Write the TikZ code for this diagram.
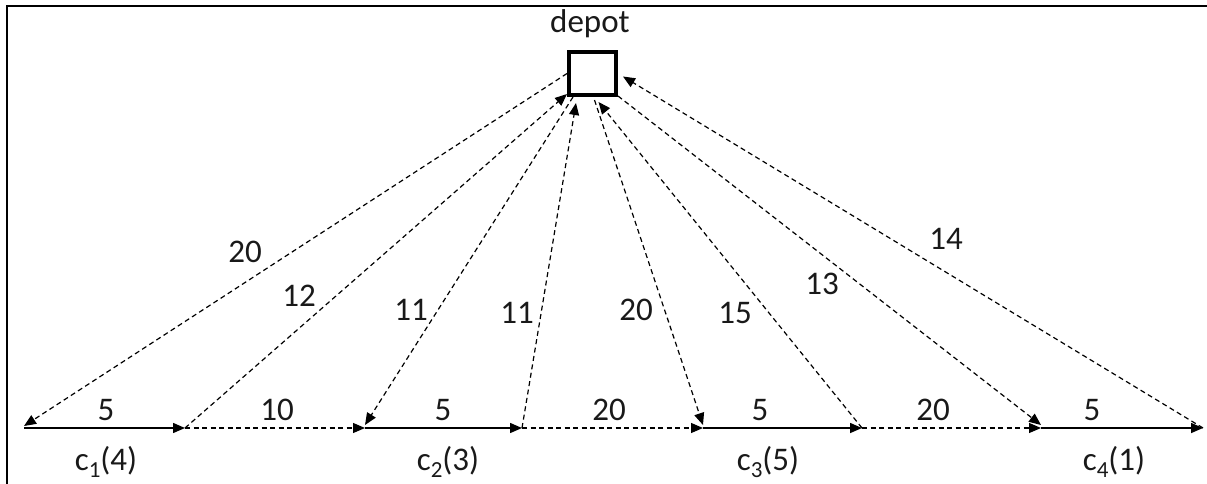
\documentclass[tikz,border=0pt]{standalone}
\usepackage{fontspec}
\setmainfont{Carlito}
\usetikzlibrary{arrows.meta}
\begin{document}
\begin{tikzpicture}[x=1pt,y=-1pt,
  lbl/.style={font=\fontsize{33}{39}\selectfont, text=black!90, inner sep=0pt},
  dsh/.style={line width=1.2pt, dash pattern=on 5pt off 3.5pt, -{Triangle[length=12pt,width=10pt]}},
  sld/.style={line width=1.5pt, -{Triangle[length=12pt,width=10pt]}},
  frame/.style={line width=2.2pt}]
\useasboundingbox (0,0) rectangle (1207,484);
% frame
\draw[frame] (7,484) -- (7,6) -- (1207,6);
% depot
\node[draw, line width=4pt, minimum width=47pt, minimum height=43pt, inner sep=0pt] (depot) at (592.5,73.5) {};
\node[lbl] (depotlbl) at (590,24) {depot};
% bottom points
\coordinate (p0) at (24,428);
\coordinate (p1) at (185,428);
\coordinate (p2) at (365,428);
\coordinate (p3) at (522,428);
\coordinate (p4) at (703,428);
\coordinate (p5) at (862,428);
\coordinate (p6) at (1041,428);
\coordinate (p7) at (1203,428);
% route along the bottom
\draw[sld] (p0) -- (p1);
\draw[dsh] (p1) -- (p2);
\draw[sld] (p2) -- (p3);
\draw[dsh] (p3) -- (p4);
\draw[sld] (p4) -- (p5);
\draw[dsh] (p5) -- (p6);
\draw[sld] (p6) -- (p7);
% depot connections
\draw[dsh] (depot.west) -- ([yshift=2pt]p0);
\draw[dsh] (p1) -- ([yshift=3pt]depot.south west);
\draw[dsh] ([xshift=6pt]depot.south west) -- ([yshift=3pt]p2);
\draw[dsh] (p3) -- ([xshift=9pt,yshift=-6pt]depot.south west);
\draw[dsh] ([xshift=2pt,yshift=-3pt]depot.south) -- ([yshift=3pt]p4);
\draw[dsh] (p5) -- ([xshift=6pt,yshift=-5pt]depot.south);
\draw[dsh] ([yshift=1pt]depot.south east) -- ([yshift=3pt]p6);
\draw[dsh] (p7) -- ([xshift=5pt,yshift=-3pt]depot.east);
% slanted labels
\node[lbl] (l1) at (245,252) {20};
\node[lbl] (l2) at (299,296) {12};
\node[lbl] (l3) at (411,310) {11};
\node[lbl] (l4) at (517,313) {11};
\node[lbl] (l5) at (636,310) {20};
\node[lbl] (l6) at (735,313) {15};
\node[lbl] (l7) at (822,284) {13};
\node[lbl] (l8) at (946,239) {14};
% bottom labels
\node[lbl] (b1) at (106,410) {5};
\node[lbl] (b2) at (277,410) {10};
\node[lbl] (b3) at (443,410) {5};
\node[lbl] (b4) at (609,410) {20};
\node[lbl] (b5) at (760,410) {5};
\node[lbl] (b6) at (933,410) {20};
\node[lbl] (b7) at (1092,410) {5};
% customer labels
\newcommand{\sbs}[1]{\raisebox{-0.22em}{\fontsize{23}{23}\selectfont #1}}
\node[lbl] (c1) at (106,462) {c\sbs{1}(4)};
\node[lbl] (c2) at (448,462) {c\sbs{2}(3)};
\node[lbl] (c3) at (768,462) {c\sbs{3}(5)};
\node[lbl] (c4) at (1114,462) {c\sbs{4}(1)};
\end{tikzpicture}
\end{document}
